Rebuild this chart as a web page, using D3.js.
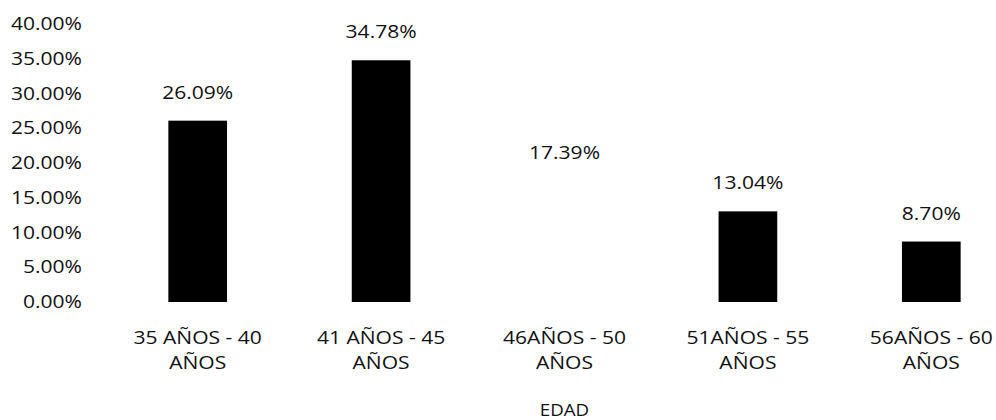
<!DOCTYPE html>
<html lang="es">
<head>
<meta charset="UTF-8">
<title>EDAD</title>
<script src="https://d3js.org/d3.v7.min.js"></script>
<style>
    body { margin: 0; background: #fff; }
    svg { display: block; }
    text { font-family: "Open Sans", sans-serif; font-size: 18px; fill: #111; }
</style>
</head>
<body>
<div id="chart"></div>
<script>
    // datos
    var categorias = [["35 AÑOS - 40", "AÑOS"], ["41 AÑOS - 45", "AÑOS"], ["46AÑOS - 50", "AÑOS"], ["51AÑOS - 55", "AÑOS"], ["56AÑOS - 60", "AÑOS"]];
    var valores = [26.09, 34.78, 17.39, 13.04, 8.70];
    var colores = ["#000", "#000", "#fff", "#000", "#000"]; // la barra 46-50 no se ve en la imagen
    var ticks = [0, 5, 10, 15, 20, 25, 30, 35, 40];

    var W = 996, H = 420, sx = 1.17;
    var svg = d3.select("#chart").append("svg").attr("width", W).attr("height", H);

    var x = d3.scaleBand().domain(d3.range(valores.length)).range([106, 1023])
        .paddingInner(0.68).paddingOuter(0.34);
    var y = d3.scaleLinear().domain([0, 40]).range([302, 24]);

    function label(sel, px, py, anchor) {
        return sel.attr("text-anchor", anchor)
            .attr("transform", (d, i) => "translate(" + px(d, i) + "," + py(d, i) + ") scale(" + sx + ",1)");
    }

    // eje y
    label(svg.append("g").selectAll("text").data(ticks).join("text")
        .text(d => d.toFixed(2) + "%"), () => 82, d => y(d) + 6, "end");

    // barras
    svg.append("g").selectAll("rect").data(valores).join("rect")
        .attr("x", (d, i) => x(i))
        .attr("width", x.bandwidth())
        .attr("y", d => y(d))
        .attr("height", d => y(0) - y(d))
        .attr("fill", (d, i) => colores[i]);

    // etiquetas de valor
    label(svg.append("g").selectAll("text").data(valores).join("text")
        .text(d => d.toFixed(2) + "%"),
        (d, i) => x(i) + x.bandwidth() / 2, d => y(d) - 22, "middle");

    // categorias
    var cat = svg.append("g").selectAll("g").data(categorias).join("g");
    label(cat.append("text").text(d => d[0]), (d, i) => x(i) + x.bandwidth() / 2, () => 344, "middle");
    label(cat.append("text").text(d => d[1]), (d, i) => x(i) + x.bandwidth() / 2, () => 369, "middle");

    // titulo del eje
    svg.append("text").attr("text-anchor", "middle")
        .attr("transform", "translate(" + (x(2) + x.bandwidth() / 2) + ",416) scale(" + sx + ",1)")
        .style("font-size", "16px")
        .text("EDAD");
</script>
</body>
</html>
